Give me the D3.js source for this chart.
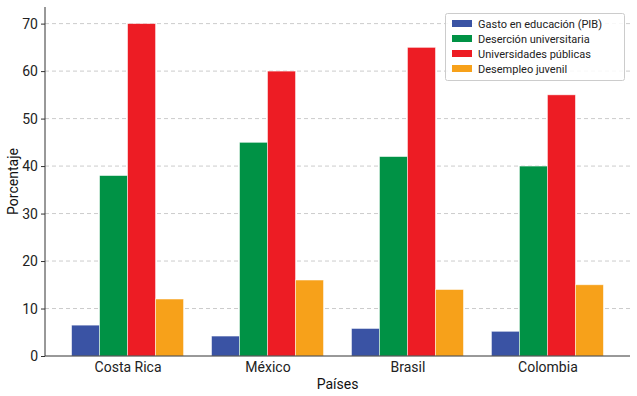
<!DOCTYPE html>
<html><head><meta charset="utf-8">
<script src="https://cdn.jsdelivr.net/npm/d3@7/dist/d3.min.js"></script>
<style>body{margin:0;background:#fff}svg{display:block;font-family:Roboto,"Open Sans",sans-serif}</style>
</head><body><svg id="c" width="637" height="396"></svg>
<script>
const categories = ["Costa Rica", "México", "Brasil", "Colombia"];
const seriesNames = ["Gasto en educación (PIB)", "Deserción universitaria", "Universidades públicas", "Desempleo juvenil"];
const gasto = [6.5, 4.2, 5.8, 5.2];
const desercion = [38, 45, 42, 40];
const publicas = [70, 60, 65, 55];
const desempleo = [12, 16, 14, 15];
const colors = ["#3a53a4", "#009245", "#ed1c24", "#f7a11a"];
const yTicks = [0, 10, 20, 30, 40, 50, 60, 70];

const series = [gasto, desercion, publicas, desempleo];
const svg = d3.select("#c");
const L = 45, R = 630, T = 7, B = 356;
const n = categories.length;
const span = (n - 1) + 0.8;
const x = d3.scaleLinear().domain([-0.4 - span*0.05, (n-1) + 0.4 + span*0.05]).range([L, R]);
const y = d3.scaleLinear().domain([0, 73.5]).range([B, T]);
const bw = 0.2;

svg.append("g").selectAll("line").data(yTicks.filter(d=>d>0)).join("line")
  .attr("x1", L).attr("x2", R).attr("y1", d=>y(d)).attr("y2", d=>y(d))
  .attr("stroke", "#cccccc").attr("stroke-width", 1).attr("stroke-dasharray", "4,3");

series.forEach((s, si) => {
  svg.append("g").selectAll("rect").data(s).join("rect")
    .attr("x", (d,i) => x(i - 0.4 + si*bw))
    .attr("width", x(bw) - x(0))
    .attr("y", d => y(d))
    .attr("height", d => y(0) - y(d))
    .attr("fill", colors[si])
    .attr("stroke", "#ffffff").attr("stroke-opacity", 0.6).attr("stroke-width", 0.8);
});

const ya = svg.append("g").attr("transform", `translate(${L},0)`)
  .call(d3.axisLeft(y).tickValues(yTicks).tickSize(4).tickPadding(3));
ya.select(".domain").attr("d", `M0,${T}V${B}`).attr("stroke", "#333");
ya.selectAll("text").attr("font-size", 14).attr("fill", "#222").attr("font-family", "Roboto");
ya.selectAll(".tick line").attr("stroke", "#333");

const xa = svg.append("g").attr("transform", `translate(0,${B})`)
  .call(d3.axisBottom(x).tickValues(d3.range(n)).tickFormat(i => categories[i]).tickSize(0).tickPadding(6));
xa.select(".domain").attr("d", `M${L},0H${R}`).attr("stroke", "#333");
xa.selectAll("text").attr("font-size", 14).attr("fill", "#222").attr("font-family", "Roboto");

svg.append("text").attr("x", (L+R)/2).attr("y", 389).attr("text-anchor", "middle")
  .attr("font-size", 14).attr("fill", "#111").text("Países");
svg.append("text").attr("transform", `translate(18,${(T+B)/2}) rotate(-90)`).attr("text-anchor", "middle")
  .attr("font-size", 14).attr("fill", "#111").text("Porcentaje");

const lg = svg.append("g").attr("transform", "translate(445,13)");
lg.append("rect").attr("x", 0.5).attr("y", 0.5).attr("width", 179).attr("height", 67).attr("rx", 2)
  .attr("fill", "#fff").attr("fill-opacity", 0.85).attr("stroke", "#cccccc");
seriesNames.forEach((name, i) => {
  lg.append("rect").attr("x", 7).attr("y", 7 + i*15).attr("width", 20).attr("height", 7).attr("fill", colors[i]);
  lg.append("text").attr("x", 33).attr("y", 14.5 + i*15).attr("font-size", 11).attr("fill", "#222").text(name);
});
</script></body></html>
